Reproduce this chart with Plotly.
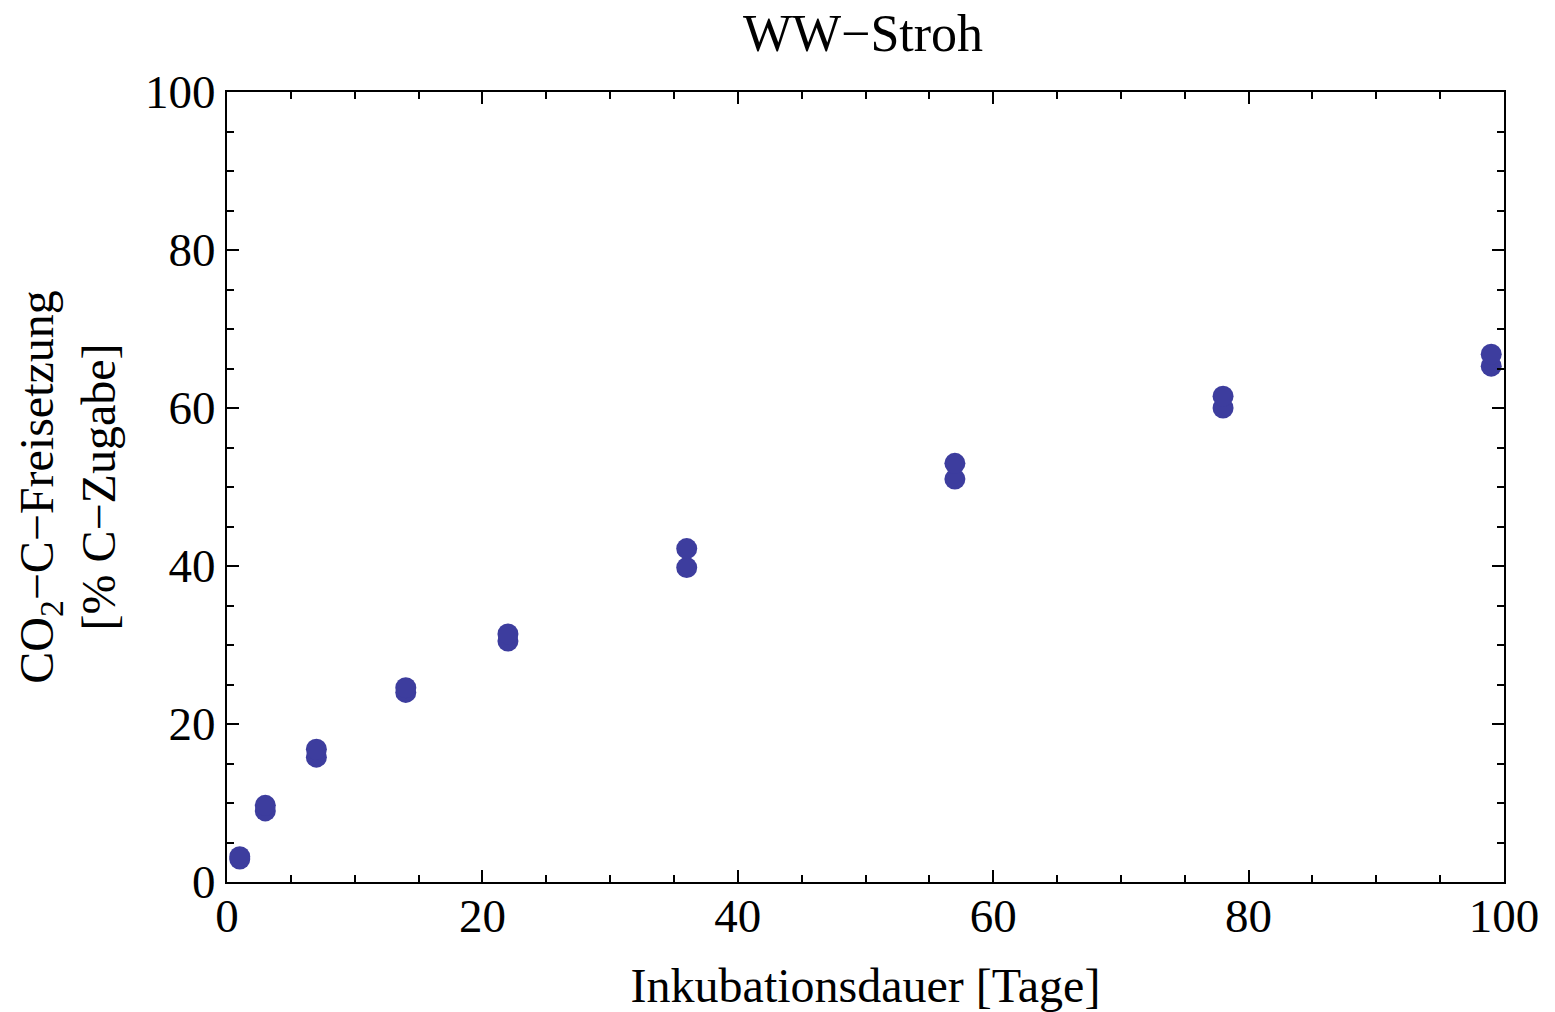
import plotly.graph_objects as go

days = [1, 1, 3, 3, 7, 7, 14, 14, 22, 22, 36, 36, 57, 57, 78, 78, 99, 99]
release = [2.9, 3.2, 9.0, 9.7, 15.8, 16.8, 24.0, 24.6, 30.5, 31.4, 39.8, 42.2, 51.0, 53.0, 60.0, 61.5, 65.3, 66.8]

title_text = "WW\u2212Stroh"
x_title = "Inkubationsdauer [Tage]"
y_title = "CO<sub>2</sub>\u2212C\u2212Freisetzung<br>[% C\u2212Zugabe]"

font_family = "Liberation Serif, Times New Roman, serif"

fig = go.Figure()
fig.add_trace(go.Scatter(
    x=days, y=release, mode="markers",
    marker=dict(size=21, color="rgb(61,61,158)", line=dict(width=0)),
    showlegend=False,
))

axis_common = dict(
    showgrid=False, zeroline=False, automargin=False,
    showline=True, linecolor="black", linewidth=2, mirror="ticks",
    ticks="inside", ticklen=12, tickwidth=2, tickcolor="black",
    tickfont=dict(family=font_family, size=47, color="black"),
    minor=dict(ticks="inside", ticklen=7, tickwidth=2, tickcolor="black", dtick=5, showgrid=False),
    dtick=20, tick0=0,
)

fig.update_layout(
    width=1555, height=1012,
    paper_bgcolor="white", plot_bgcolor="white",
    margin=dict(l=227, r=51, t=92, b=130, autoexpand=False),
    title=dict(text=title_text, x=0.555, xanchor="center", y=0.968, yanchor="middle",
               font=dict(family=font_family, size=52, color="black")),
    xaxis=dict(range=[0, 100], ticklabelstandoff=-8,
               title=dict(text=x_title, standoff=28,
               font=dict(family=font_family, size=48, color="black")), **axis_common),
    yaxis=dict(range=[0, 100], title=dict(text=y_title, standoff=14,
               font=dict(family=font_family, size=48, color="black")), **axis_common),
)

fig.write_html("out.html")
